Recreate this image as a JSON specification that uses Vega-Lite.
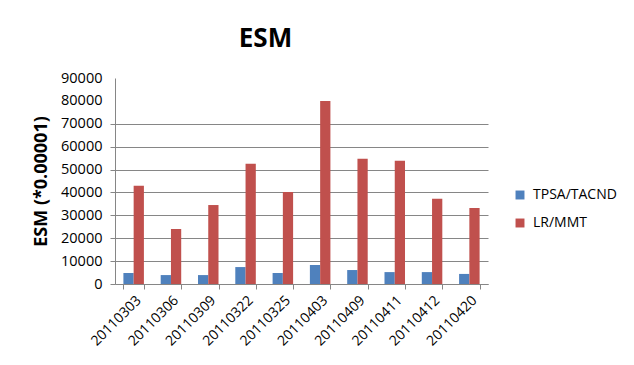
{
  "$schema": "https://vega.github.io/schema/vega-lite/v6.json",
  "width": 373,
  "height": 206,
  "autosize": "none",
  "padding": {"left": 115, "top": 78, "right": 146, "bottom": 81},
  "background": "white",
  "title": {"text": "ESM", "fontSize": 26, "font": "Open Sans", "fontWeight": "bold", "anchor": "middle", "offset": 18, "dx": -36, "color": "black"},
  "config": {"view": {"stroke": null}, "font": "Open Sans"},
  "data": {"values": [
    {"date": "20110303", "series": "TPSA/TACND", "value": 4800},
    {"date": "20110303", "series": "LR/MMT", "value": 42900},
    {"date": "20110306", "series": "TPSA/TACND", "value": 3900},
    {"date": "20110306", "series": "LR/MMT", "value": 24000},
    {"date": "20110309", "series": "TPSA/TACND", "value": 3900},
    {"date": "20110309", "series": "LR/MMT", "value": 34500},
    {"date": "20110322", "series": "TPSA/TACND", "value": 7400},
    {"date": "20110322", "series": "LR/MMT", "value": 52500},
    {"date": "20110325", "series": "TPSA/TACND", "value": 4800},
    {"date": "20110325", "series": "LR/MMT", "value": 40200},
    {"date": "20110403", "series": "TPSA/TACND", "value": 8300},
    {"date": "20110403", "series": "LR/MMT", "value": 80000},
    {"date": "20110409", "series": "TPSA/TACND", "value": 6100},
    {"date": "20110409", "series": "LR/MMT", "value": 54700},
    {"date": "20110411", "series": "TPSA/TACND", "value": 5200},
    {"date": "20110411", "series": "LR/MMT", "value": 53800},
    {"date": "20110412", "series": "TPSA/TACND", "value": 5200},
    {"date": "20110412", "series": "LR/MMT", "value": 37200},
    {"date": "20110420", "series": "TPSA/TACND", "value": 4400},
    {"date": "20110420", "series": "LR/MMT", "value": 33200}
  ]},
  "mark": {"type": "bar"},
  "encoding": {
    "x": {
      "field": "date", "type": "nominal", "sort": null,
      "scale": {"paddingInner": 0.45, "paddingOuter": 0.225},
      "axis": {"title": null, "labelAngle": -45, "labelFontSize": 14, "labelColor": "black", "labelPadding": 4,
               "domainColor": "#868686", "tickColor": "#868686", "tickBand": "extent", "tickSize": 5}
    },
    "xOffset": {"field": "series", "sort": ["TPSA/TACND", "LR/MMT"]},
    "y": {
      "field": "value", "type": "quantitative",
      "scale": {"domain": [0, 90000], "nice": false},
      "axis": {"title": "ESM (*0.00001)", "titleFontSize": 18, "titleFontWeight": "bold", "titleColor": "black", "titlePadding": 10,
               "values": [0, 10000, 20000, 30000, 40000, 50000, 60000, 70000, 80000, 90000],
               "format": "d", "labelFontSize": 14.5, "labelColor": "black", "labelPadding": 8,
               "domainColor": "#868686", "tickColor": "#868686", "tickSize": 5,
               "gridColor": "#868686",
               "gridOpacity": {"condition": {"test": "datum.value > 70000", "value": 0}, "value": 1},
               "tickOpacity": {"condition": {"test": "datum.value > 70000", "value": 0}, "value": 1}}
    },
    "color": {
      "field": "series", "type": "nominal", "sort": ["TPSA/TACND", "LR/MMT"],
      "scale": {"range": ["#4F81BD", "#C0504D"]},
      "legend": {"title": null, "orient": "none", "legendX": 398, "legendY": 110, "symbolType": "square", "symbolSize": 80,
                 "labelFontSize": 14, "labelColor": "black", "rowPadding": 14, "labelOffset": 6}
    }
  }
}
